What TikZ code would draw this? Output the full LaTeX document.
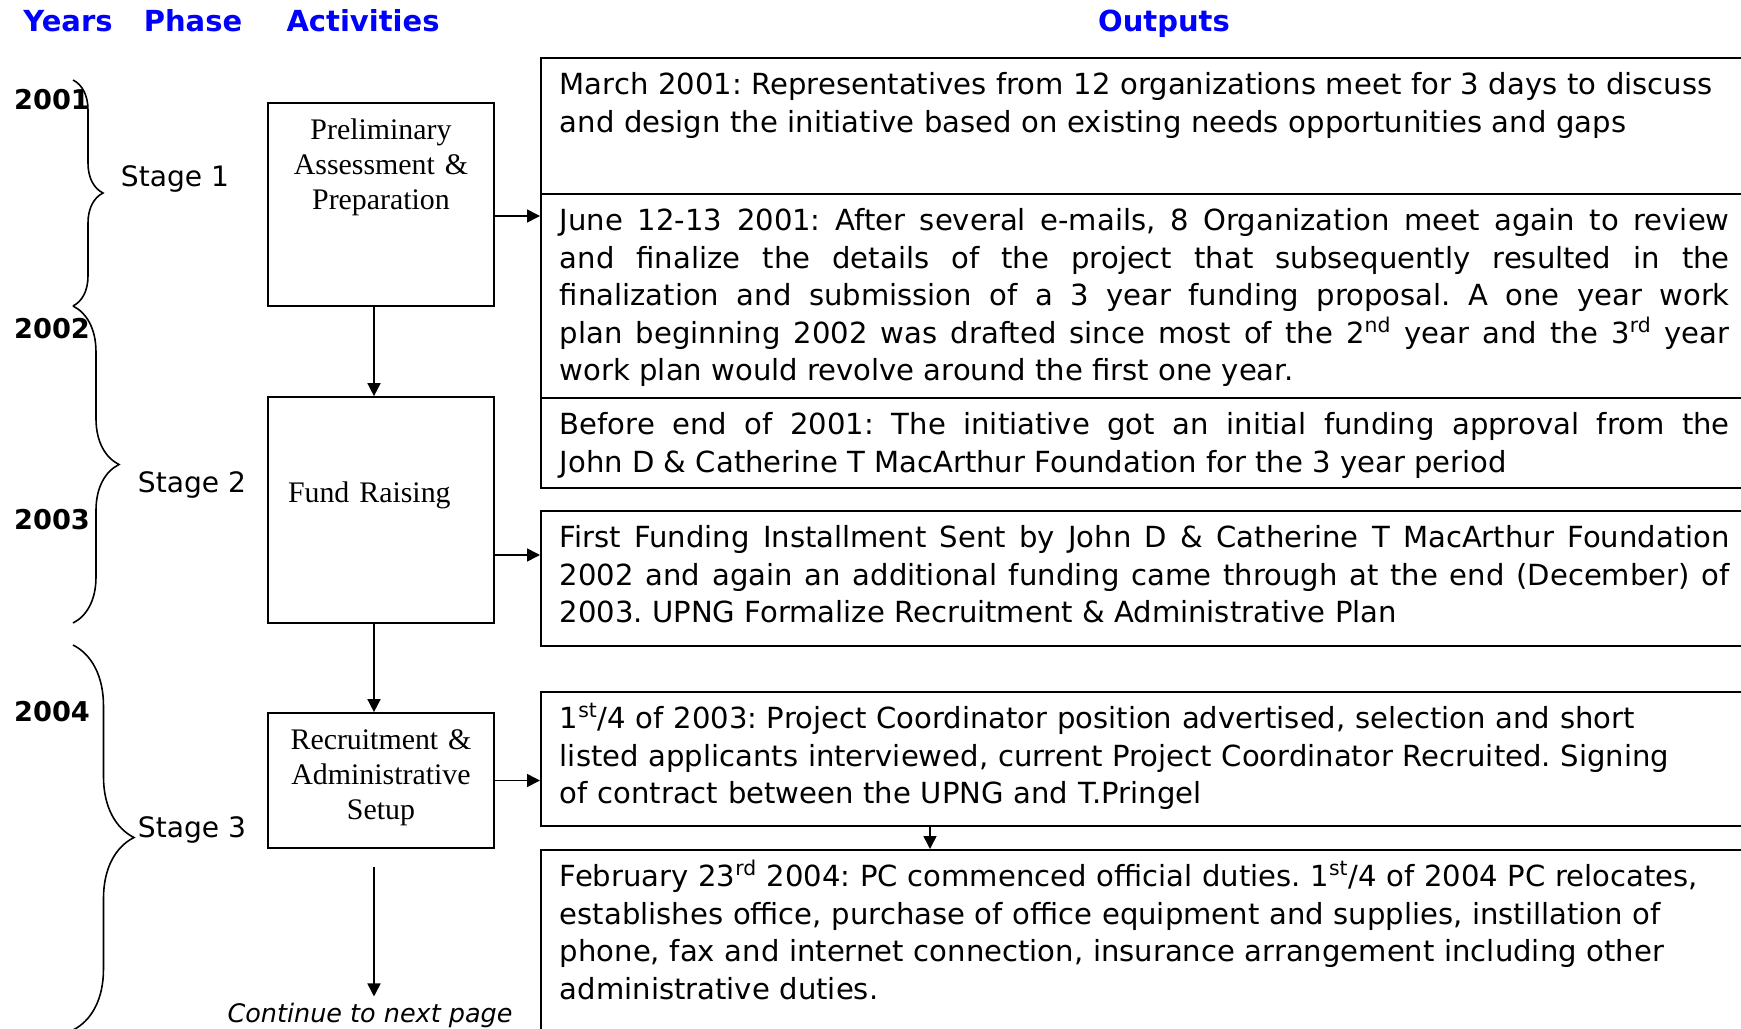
\documentclass[tikz,border=0pt]{standalone}
\usepackage{fontspec}
\setmainfont{Liberation Serif}
\setsansfont{DejaVu Sans}
\newfontfamily\outfont{DejaVu Sans}
\usetikzlibrary{arrows.meta,positioning,decorations.pathreplacing}
\definecolor{headblue}{RGB}{0,0,255}
\frenchspacing

\begin{document}
\begin{tikzpicture}[x=0.02cm,y=-0.02cm,
	arr/.style={-{Triangle[length=0.26cm,width=0.26cm]},line width=0.9pt},
	actbox/.style={draw,line width=1pt,minimum width=4.52cm,text width=3.72cm,inner xsep=0.4cm,inner ysep=0pt,align=center,font=\fontsize{17}{20}\selectfont},
	outbox/.style={draw,line width=1pt,anchor=north west,text width=23.4cm,inner xsep=0.38cm,inner ysep=0pt,text height=0.74cm,align=left,font=\outfont\fontsize{16.55}{21.3}\selectfont},
	head/.style={anchor=base,text=headblue,font=\sffamily\bfseries\fontsize{16.5}{20}\selectfont},
	year/.style={font=\sffamily\bfseries\fontsize{15.5}{18}\selectfont},
	stage/.style={font=\sffamily\fontsize{16}{19}\selectfont},
	yearbrace/.style={decorate,line width=0.9pt}]
	\useasboundingbox (0,0) rectangle (1741,1028);
	\clip (0,0) rectangle (1741,1028);

	\node[head] at (68,31) (hyears) {Years};
	\node[head] at (193,31) (hphase) {Phase};
	\node[head] at (363,31) (hact) {Activities};
	\node[head] at (1164,31) (hout) {Outputs};

	\node[year] at (52,100) (y01) {2001};
	\node[year] at (52,329) (y02) {2002};
	\node[year] at (52,520) (y03) {2003};
	\node[year] at (52,712) (y04) {2004};

	\draw[yearbrace,decoration={brace,amplitude=0.6cm}] (73,80) -- (73,306);
	\draw[yearbrace,decoration={brace,amplitude=0.92cm}] (73,306) -- (73,623);
	\draw[yearbrace,decoration={brace,amplitude=1.22cm}] (73,645) -- (73,1030);

	\node[stage] at (175,179) (st1) {Stage 1};
	\node[stage] at (192,485) (st2) {Stage 2};
	\node[stage] at (192,830) (st3) {Stage 3};

	\node[actbox,text height=0.72cm,text depth=3.34cm] at (381,204.5) (prelim) {Preliminary\\ Assessment \&\\ Preparation};
	\node[actbox,align=left,text height=2.1cm,text depth=2.42cm] at (381,510) (fund) {Fund Raising};
	\node[actbox,text height=0.72cm,text depth=1.98cm] at (381,780.5) (recruit) {Recruitment \&\\ Administrative\\ Setup};
	\node[font=\sffamily\itshape\fontsize{14.5}{17}\selectfont] at (370,1015) (cont) {Continue to next page};

	\node[outbox,text depth=1.98cm] at (540,57) (march) {March 2001: Representatives from 12 organizations meet for 3 days to discuss\\
	and design the initiative based on existing needs opportunities and gaps};
	\node[outbox,align=justify,text depth=3.34cm] at (540,193) (june) {June 12-13 2001: After several e-mails, 8 Organization meet again to review\linebreak
	and finalize the details of the project that subsequently resulted in the\linebreak
	finalization and submission of a 3 year funding proposal. A one year work\linebreak
	plan beginning 2002 was drafted since most of the 2\textsuperscript{nd} year and the 3\textsuperscript{rd} year\linebreak
	work plan would revolve around the first one year.};
	\node[outbox,align=justify,text depth=1.06cm] at (540,397) (approval) {Before end of 2001: The initiative got an initial funding approval from the\linebreak
	John D \& Catherine T MacArthur Foundation for the 3 year period};
	\node[outbox,align=justify,text depth=1.96cm] at (540,510) (install) {First Funding Installment Sent by John D \& Catherine T MacArthur Foundation\linebreak
	2002 and again an additional funding came through at the end (December) of\linebreak
	2003. UPNG Formalize Recruitment \& Administrative Plan};
	\node[outbox,text depth=1.94cm] at (540,691) (hire) {1\textsuperscript{st}/4 of 2003: Project Coordinator position advertised, selection and short\\
	listed applicants interviewed, current Project Coordinator Recruited. Signing\\
	of contract between the UPNG and T.Pringel};
	\node[outbox,text depth=6cm] at (540,849) (duty) {February 23\textsuperscript{rd} 2004: PC commenced official duties. 1\textsuperscript{st}/4 of 2004 PC relocates,\\
	establishes office, purchase of office equipment and supplies, instillation of\\
	phone, fax and internet connection, insurance arrangement including other\\
	administrative duties.};

	\coordinate (spine) at (374,0);
	\coordinate (gap) at (374,867);
	\coordinate (link) at (930,0);
	\draw[arr] (spine |- prelim.south) -- (spine |- fund.north);
	\draw[arr] (spine |- fund.south) -- (spine |- recruit.north);
	\draw[arr] (gap) -- (gap |- cont.north);
	\draw[arr] ([yshift=-0.23cm]prelim.east) coordinate (p1) -- (p1 -| june.west);
	\draw[arr] ([yshift=-0.9cm]fund.east) coordinate (p2) -- (p2 -| install.west);
	\draw[arr] (recruit.east) -- (recruit.east -| hire.west);
	\draw[arr] (link |- hire.south) -- (link |- duty.north);
\end{tikzpicture}
\end{document}
